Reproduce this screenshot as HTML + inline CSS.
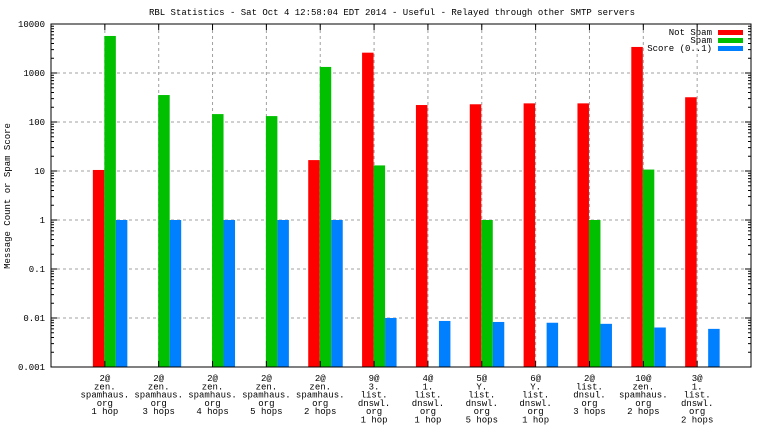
<!DOCTYPE html>
<html><head><meta charset="utf-8"><style>
body{margin:0;background:#fff}
svg text{font-family:"Liberation Mono","DejaVu Sans Mono",monospace;font-size:9px;fill:#000}
</style></head><body>
<svg id="chart" width="768" height="432" xmlns="http://www.w3.org/2000/svg">
<text x="392" y="15" text-anchor="middle">RBL Statistics - Sat Oct  4 12:58:04 EDT 2014 - Useful - Relayed through other SMTP servers</text>
<text transform="translate(10,196) rotate(-90)" text-anchor="middle">Message Count or Spam Score</text>
<g id="grid"></g><g id="bars"></g><g id="axes"></g><g id="labels"></g>
<g>
<text x="712" y="35" text-anchor="end">Not Spam</text><rect x="718" y="30" width="25" height="5" fill="#ff0000"/>
<text x="712" y="43" text-anchor="end">Spam</text><rect x="718" y="38" width="25" height="5" fill="#00c000"/>
<text x="712" y="51" text-anchor="end">Score (0..1)</text><rect x="718" y="46" width="25" height="5" fill="#0080ff"/>
</g>
</svg>
<script>
const categories=[["2@","zen.","spamhaus.","org","1 hop"],["2@","zen.","spamhaus.","org","3 hops"],["2@","zen.","spamhaus.","org","4 hops"],["2@","zen.","spamhaus.","org","5 hops"],["2@","zen.","spamhaus.","org","2 hops"],["9@","3.","list.","dnswl.","org","1 hop"],["4@","1.","list.","dnswl.","org","1 hop"],["5@","Y.","list.","dnswl.","org","5 hops"],["6@","Y.","list.","dnswl.","org","1 hop"],["2@","list.","dnsul.","org","3 hops"],["10@","zen.","spamhaus.","org","2 hops"],["3@","1.","list.","dnswl.","org","2 hops"]];
const notSpam=[10.5,0,0,0,16.7,2600,222,230,240,240,3400,320];
const spam=[5700,355,145,132,1330,13,0,1,0,1,10.7,0];
const score=[1,1,1,1,1,0.01,0.0087,0.0083,0.008,0.0076,0.0064,0.006];
const yTicks=[0.001,0.01,0.1,1,10,100,1000,10000];
const yTickLabels=["0.001","0.01","0.1","1","10","100","1000","10000"];
const L=51,R=751,T=24,B=367,NS="http://www.w3.org/2000/svg";
const yMin=-3,yMax=4;
function y(v){return B-(Math.log10(v)-yMin)/(yMax-yMin)*(B-T);}
function xc(i){return L+(i+1)*(R-L)/(categories.length+1);}
function mk(tag,at,p){const e=document.createElementNS(NS,tag);for(const k in at)e.setAttribute(k,at[k]);document.getElementById(p).appendChild(e);return e;}
yTicks.forEach((v,i)=>{
 const g=mk('line',{x1:L,x2:R,y1:y(v),y2:y(v),stroke:'#a0a0a0','stroke-dasharray':'3,3'},'grid');
 
 
 const t=mk('text',{x:L-6,y:y(v)+3,'text-anchor':'end'},'labels');t.textContent=yTickLabels[i];
 
 
 mk('line',{x1:L,x2:L+6,y1:y(v),y2:y(v),stroke:'#000'},'axes');
 mk('line',{x1:R,x2:R-6,y1:y(v),y2:y(v),stroke:'#000'},'axes');
 if(i<yTicks.length-1)for(let m=2;m<10;m++){const yy=y(v*m);
  mk('line',{x1:L,x2:L+3,y1:yy,y2:yy,stroke:'#000'},'axes');
  mk('line',{x1:R,x2:R-3,y1:yy,y2:yy,stroke:'#000'},'axes');}
});
const bw=11.5;
categories.forEach((c,i)=>{
 const cx=xc(i);
 const g=mk('line',{x1:cx,x2:cx,y1:T,y2:B,stroke:'#a0a0a0','stroke-dasharray':'3,3'},'grid');
 
 
 mk('line',{x1:cx,x2:cx,y1:T,y2:T+6,stroke:'#000'},'axes');
 mk('line',{x1:cx,x2:cx,y1:B,y2:B-6,stroke:'#000'},'axes');
 [[notSpam,'#ff0000',-12,'bar-not-spam'],[spam,'#00c000',-0.5,'bar-spam'],[score,'#0080ff',11,'bar-score']].forEach(s=>{
  const v=s[0][i];if(!(v>0))return;
  const r=mk('rect',{x:cx+s[2],y:y(v),width:bw,height:B-y(v),fill:s[1]},'bars');
  
  
 });
 c.forEach((ln,j)=>{const t=mk('text',{x:cx,y:381+j*8.3,'text-anchor':'middle'},'labels');t.textContent=ln;
  
  });
});
const f=mk('rect',{x:L,y:T,width:R-L,height:B-T,fill:'none',stroke:'#000'},'axes');


</script>
</body></html>
